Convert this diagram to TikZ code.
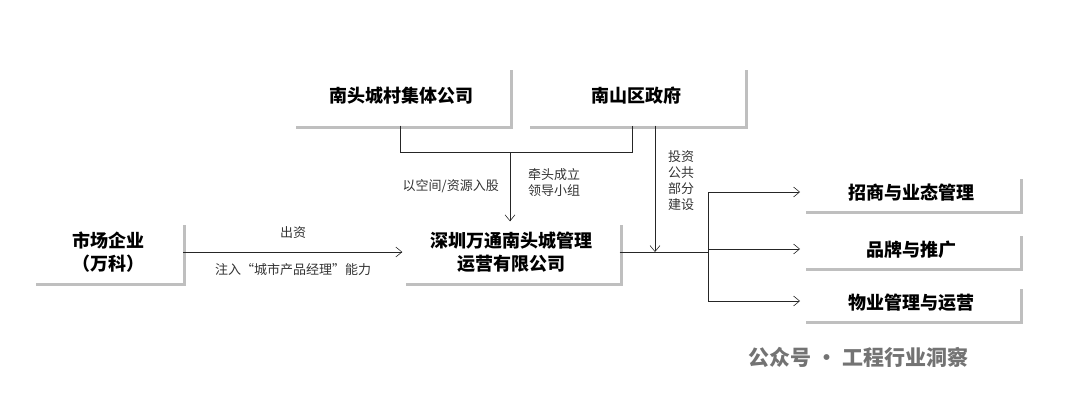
\documentclass[tikz,border=0pt]{standalone}
\usepackage{fontspec}
\setmainfont{Noto Sans CJK SC}
\usetikzlibrary{shadows,arrows.meta}

\begin{document}
\begin{tikzpicture}[x=1pt,y=-1pt]
	\tikzset{box/.style={fill=white,inner sep=0pt,
	        drop shadow={shadow xshift=3pt,shadow yshift=-3pt,fill=black!25,opacity=1},
	        font=\fontsize{18}{23}\selectfont\bfseries},
	    lbl/.style={font=\fontsize{13}{16}\selectfont,text=black!80,inner sep=1pt},
	    arr/.style={-{Straight Barb[length=6pt,width=10pt]},semithick,black!85},
	    ln/.style={semithick,black!85}}
	\useasboundingbox (0,0) rectangle (1080,402);

	    \node[box,minimum width=217pt,minimum height=59pt] (cun) at (401,96) {南头城村集体公司} ;
	    \node[box,minimum width=218pt,minimum height=59pt] (gov) at (636,96) {南山区政府} ;
	    \node[box,minimum width=217pt,minimum height=61pt,align=center] (co) at (511,252) {深圳万通南头城管理\\运营有限公司} ;
	    \node[box,minimum width=150pt,minimum height=61pt,align=center] (vk) at (108,252) {市场企业\\（万科）} ;

	    \node[box,minimum width=217pt,minimum height=35pt] (r1) at (911,193) {招商与业态管理} ;
	    \node[box,minimum width=217pt,minimum height=35pt] (r2) at (911,250) {品牌与推广} ;
	    \node[box,minimum width=217pt,minimum height=35pt] (r3) at (911,303) {物业管理与运营} ;

	    % top joint
	    \coordinate (j1) at (400,152);
	    \coordinate (j2) at (632,152);
	    \coordinate (jm) at (510,152);
	    \draw[ln] (j1 |- cun.south) -- (j1) -- (j2) -- (j2 |- gov.south);
	    \draw[arr] (jm) -- (jm |- co.north);
	    \node[lbl,anchor=east] (l1) at (500,186) {以空间/资源入股};
	    \node[lbl,align=center] (l2) at (554,183) {牵头成立\\领导小组};

	    % right side
	    \coordinate (b) at (708,252);
	    \coordinate (g) at (655,252);
	    \draw[ln] (co.east |- b) -- (b);
	    \draw[arr] (g |- gov.south) -- (g);
	    \node[lbl,align=center] (l3) at (681,181) {投资\\公共\\部分\\建设};
	    \draw[ln] (708,192) -- (708,301);
	    \foreach \r/\yy in {r1/192,r2/249,r3/301}
	        \draw[arr] (708,\yy) -- (800,\yy);

	    % left side
	    \draw[arr] (vk.east) -- (co.west);
	    \node[lbl] (l4) at (293,233) {出资};
	    \node[lbl] (l5) at (293,270) {注入“城市产品经理”能力};

	    % footer
	    \node[font=\fontsize{21}{24}\selectfont\bfseries,text=black!55,anchor=west] (ft) at (745,357) {公众号 · 工程行业洞察};
	\end{tikzpicture}
\end{document}
